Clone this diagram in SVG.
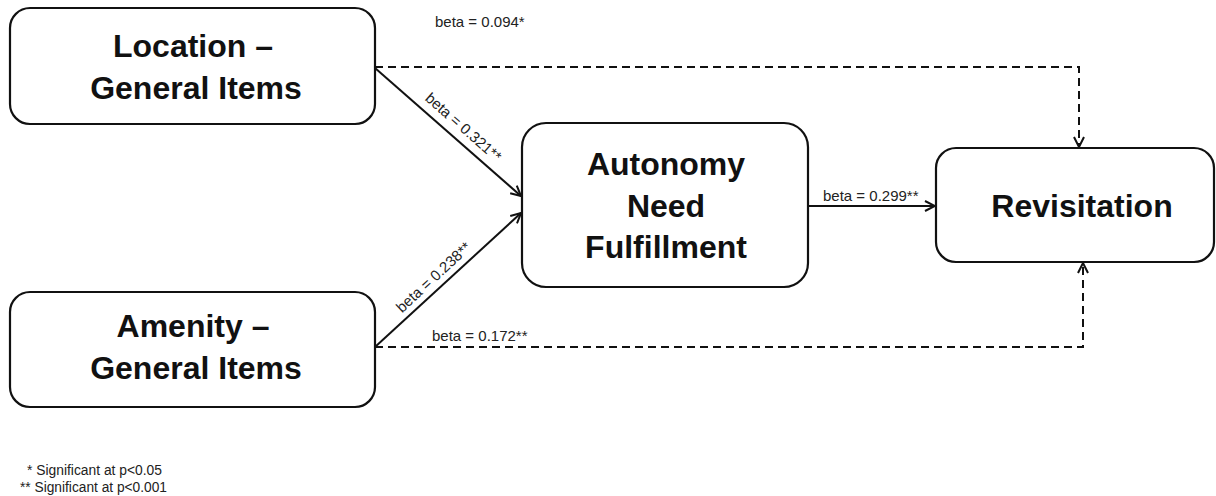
<svg xmlns="http://www.w3.org/2000/svg" width="1216" height="496" viewBox="0 0 1216 496">
  <style>
    .box { fill: #ffffff; stroke: #111111; stroke-width: 2.2; }
    .title { font-family: "Liberation Sans", Arial, sans-serif; font-weight: bold; font-size: 32px; fill: #111111; text-anchor: middle; }
    .edge { fill: none; stroke: #111111; stroke-width: 2; }
    .dash { stroke-dasharray: 8 5; }
    .lbl { font-family: "Liberation Sans", Arial, sans-serif; font-size: 15px; fill: #222222; }
    .note { font-family: "Liberation Sans", Arial, sans-serif; font-size: 14px; fill: #222222; }
  </style>
  <defs>
    <marker id="open" viewBox="0 0 12 12" refX="11" refY="6" markerWidth="12" markerHeight="12" markerUnits="userSpaceOnUse" orient="auto">
      <path d="M1,1 L11,6 L1,11" fill="none" stroke="#111111" stroke-width="2"/>
    </marker>
  </defs>
  <rect width="1216" height="496" fill="#ffffff"/>

  <g id="connectors">
    <path class="edge" d="M375,68 L521,196" marker-end="url(#open)"/>
    <path class="edge" d="M375,347 L521,213" marker-end="url(#open)"/>
    <path class="edge" d="M808,206 L935,206" marker-end="url(#open)"/>
    <path class="edge dash" d="M375,67 H1079 V147" marker-end="url(#open)"/>
    <path class="edge dash" d="M375,347 H1083 V263" marker-end="url(#open)"/>
    <text class="lbl" x="435" y="27">beta = 0.094*</text>
    <text class="lbl" text-anchor="middle" transform="translate(460,131) rotate(41.3)">beta = 0.321**</text>
    <text class="lbl" text-anchor="middle" transform="translate(437,281) rotate(-42.8)">beta = 0.238**</text>
    <text class="lbl" x="432" y="341">beta = 0.172**</text>
    <text class="lbl" x="823" y="201">beta = 0.299**</text>
  </g>

  <g id="location">
    <rect class="box" x="10" y="8" width="365" height="116" rx="20"/>
    <text class="title" x="193" y="57">Location –</text>
    <text class="title" x="196" y="99">General Items</text>
  </g>

  <g id="amenity">
    <rect class="box" x="10" y="292" width="365" height="115" rx="20"/>
    <text class="title" x="193" y="337">Amenity –</text>
    <text class="title" x="196" y="379">General Items</text>
  </g>

  <g id="autonomy">
    <rect class="box" x="522" y="123" width="286" height="164" rx="24"/>
    <text class="title" x="666" y="175">Autonomy</text>
    <text class="title" x="666" y="217">Need</text>
    <text class="title" x="666" y="258">Fulfillment</text>
  </g>

  <g id="revisitation">
    <rect class="box" x="936" y="148" width="278" height="114" rx="20"/>
    <text class="title" x="1082" y="217">Revisitation</text>
  </g>

  <g id="legend">
    <text class="note" x="27" y="475" textLength="135" lengthAdjust="spacingAndGlyphs">* Significant at p&lt;0.05</text>
    <text class="note" x="20" y="492" textLength="147" lengthAdjust="spacingAndGlyphs">** Significant at p&lt;0.001</text>
  </g>
</svg>
